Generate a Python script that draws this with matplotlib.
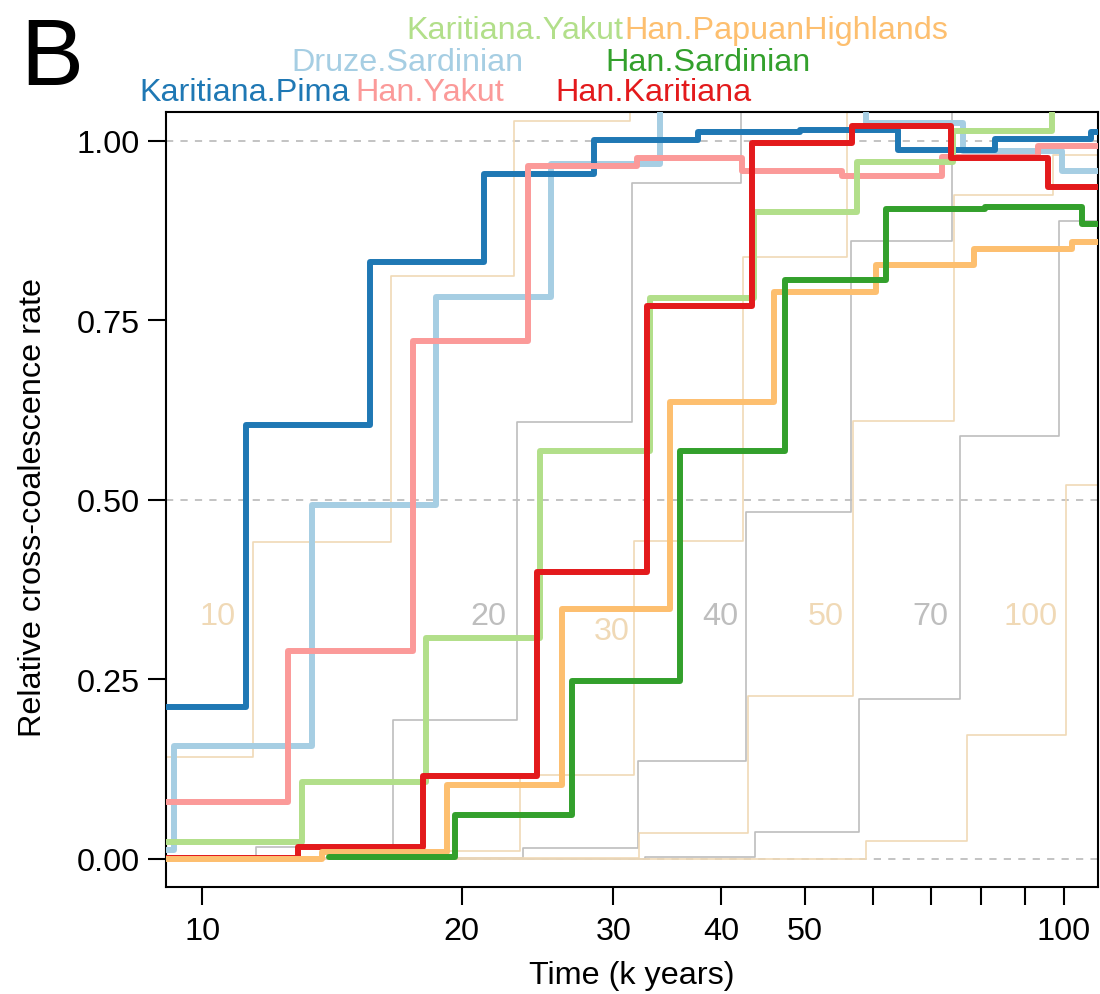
import numpy as np
import matplotlib.pyplot as plt
from matplotlib.ticker import NullLocator, FixedLocator, FixedFormatter

plt.rcParams['font.family'] = ['Liberation Sans', 'DejaVu Sans']

# time grid ends (k years)
t_end = 130.0

# cross-coalescence curves: left edge of each segment (k years) and rate
pima_t = [8.0, 11.25, 15.66, 21.24, 28.50, 37.62, 49.41, 64.20, 83.18, 107.5]
pima_v = [0.212, 0.604, 0.831, 0.954, 1.001, 1.012, 1.015, 0.987, 1.003, 1.012]

druze_t = [8.0, 9.28, 13.42, 18.68, 25.41, 33.99, 44.75, 58.93, 76.35, 99.47]
druze_v = [0.012, 0.157, 0.493, 0.783, 0.967, 1.07, 1.06, 1.024, 0.986, 0.958]

hanyak_t = [8.0, 12.58, 17.57, 23.89, 31.97, 42.32, 55.27, 72.20, 93.28]
hanyak_v = [0.079, 0.290, 0.721, 0.965, 0.976, 0.958, 0.951, 0.977, 0.993]

karyak_t = [8.0, 13.06, 18.19, 24.66, 33.10, 43.69, 57.53, 74.33, 96.85]
karyak_v = [0.024, 0.107, 0.308, 0.568, 0.781, 0.901, 0.971, 1.014, 1.07]

hankar_t = [8.0, 12.92, 18.05, 24.47, 32.84, 43.46, 56.76, 73.93, 95.81]
hankar_v = [0.001, 0.016, 0.116, 0.400, 0.770, 0.997, 1.021, 0.976, 0.936]

hanpap_t = [8.0, 13.78, 19.24, 26.16, 34.91, 46.09, 60.52, 78.64, 102.1]
hanpap_v = [0.0, 0.010, 0.103, 0.348, 0.636, 0.790, 0.827, 0.849, 0.859]

hansar_t = [14.04, 19.66, 26.87, 35.85, 47.47, 62.17, 80.97, 104.9]
hansar_v = [0.003, 0.061, 0.248, 0.568, 0.806, 0.905, 0.908, 0.884]

# simulated split references (split time in k years)
sim_names = ['10', '20', '30', '40', '50', '70', '100']
sim_t = [
    [8.0, 11.46, 16.57, 23.02, 31.38],
    [8.0, 11.55, 16.65, 23.20, 31.55, 42.20],
    [8.0, 16.83, 23.39, 31.72, 42.43, 56.02],
    [8.0, 23.57, 32.05, 42.77, 56.61, 74.14],
    [8.0, 32.14, 43.00, 56.92, 74.54, 97.10],
    [8.0, 32.66, 43.81, 57.84, 75.75, 98.67],
    [8.0, 58.93, 77.18, 100.5],
]
sim_v = [
    [0.142, 0.441, 0.812, 1.027, 1.06],
    [0.004, 0.016, 0.193, 0.609, 0.941, 1.06],
    [0.0, 0.011, 0.117, 0.443, 0.838, 1.06],
    [0.002, 0.015, 0.137, 0.483, 0.861, 1.06],
    [0.001, 0.036, 0.227, 0.610, 0.925, 0.98],
    [0.0, 0.003, 0.037, 0.223, 0.589, 0.888],
    [0.0, 0.025, 0.173, 0.520],
]
sim_label_x = [10.43, 21.47, 29.89, 39.90, 52.97, 69.90, 91.33]
sim_label_y = [0.338, 0.338, 0.318, 0.338, 0.338, 0.338, 0.338]

wheat = '#F0D9B6'
grey = '#BEBEBE'
sim_cols = [wheat, grey, wheat, grey, wheat, grey, wheat]

pairs = [
    ('Druze.Sardinian', druze_t, druze_v, '#A6CEE3'),
    ('Karitiana.Pima', pima_t, pima_v, '#1F78B4'),
    ('Han.Yakut', hanyak_t, hanyak_v, '#FB9A99'),
    ('Karitiana.Yakut', karyak_t, karyak_v, '#B2DF8A'),
    ('Han.Karitiana', hankar_t, hankar_v, '#E31A1C'),
    ('Han.PapuanHighlands', hanpap_t, hanpap_v, '#FDBF6F'),
    ('Han.Sardinian', hansar_t, hansar_v, '#33A02C'),
]

# header label placement (figure pixels: centre x, baseline y)
head_pos = {
    'Karitiana.Pima': (245, 101), 'Han.Yakut': (430, 101), 'Han.Karitiana': (653, 101),
    'Druze.Sardinian': (407, 71), 'Han.Sardinian': (708, 71),
    'Karitiana.Yakut': (515, 39), 'Han.PapuanHighlands': (786, 39),
}

FS = 23.3
W, H = 1100, 995
fig = plt.figure(figsize=(W / 100, H / 100), dpi=100)
ax = fig.add_axes([166 / W, 1 - 888 / H, (1098 - 166) / W, (888 - 113) / H])


def stairs(t, v):
    return np.append(t, t_end), np.append(v, v[-1])


for yv in [0, 0.5, 1.0]:
    ax.axhline(yv, color=grey, lw=1.3, dashes=(4, 4), zorder=1)

for t, v, c in zip(sim_t, sim_v, sim_cols):
    x, y = stairs(t, v)
    ax.step(x, y, where='post', color=c, lw=1.2, zorder=2)
for name, lx, ly, c in zip(sim_names, sim_label_x, sim_label_y, sim_cols):
    ax.text(lx, ly, name, color=c, fontsize=FS, ha='center', va='center', zorder=2)

for i, (name, t, v, c) in enumerate(pairs):
    x, y = stairs(t, v)
    ax.step(x, y, where='post', color=c, lw=4.3, zorder=3 + i,
            solid_joinstyle='round', solid_capstyle='round')
    px, py = head_pos[name]
    fig.text(px / W, 1 - py / H, name, color=c, fontsize=FS, ha='center', va='baseline')

ax.set_xscale('log')
ax.set_xlim(9.08, 109.5)
ax.set_ylim(-0.039, 1.040)

xt = [10, 20, 30, 40, 50, 60, 70, 80, 90, 100]
xl = ['10', '20', '30', '40', '50', '', '', '', '', '100']
ax.xaxis.set_major_locator(FixedLocator(xt))
ax.xaxis.set_major_formatter(FixedFormatter(xl))
ax.xaxis.set_minor_locator(NullLocator())
ax.set_yticks([0, 0.25, 0.5, 0.75, 1.0])
ax.set_yticklabels(['0.00', '0.25', '0.50', '0.75', '1.00'])
ax.tick_params(axis='both', direction='out', length=13, width=1.5, labelsize=FS)
ax.tick_params(axis='x', pad=8)
ax.tick_params(axis='y', pad=6)
for s in ax.spines.values():
    s.set_linewidth(1.5)

fig.text(632 / W, 1 - 984 / H, 'Time (k years)', fontsize=FS, ha='center', va='baseline')
fig.text(33 / W, 1 - 508 / H, 'Relative cross-coalescence rate', fontsize=FS,
         rotation=90, ha='center', va='center')
fig.text(20 / W, 1 - 85 / H, 'B', fontsize=68, ha='left', va='baseline')

fig.savefig('out.png', dpi=100)
